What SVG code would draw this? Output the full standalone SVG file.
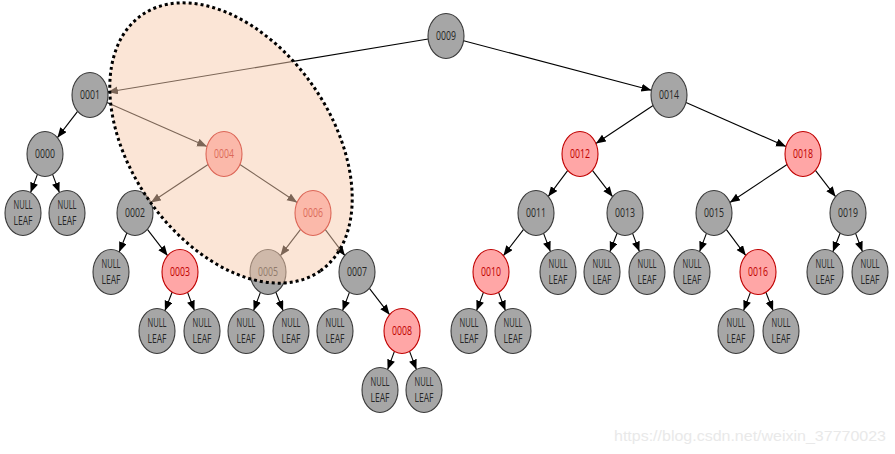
<svg xmlns="http://www.w3.org/2000/svg" width="895" height="454" viewBox="0 0 895 454">
<defs>
<marker id="arr" markerUnits="userSpaceOnUse" markerWidth="11" markerHeight="9" refX="10" refY="4" orient="auto">
<path d="M0,0 L10,4 L0,8 z" fill="#000"/>
</marker>
<style>
.e line{stroke:#000;stroke-width:1.1;marker-end:url(#arr)}
.n ellipse{fill:#a6a6a6;stroke:#3a3a3a;stroke-width:1.1}
.r ellipse{fill:#ffa6a6;stroke:#c00000;stroke-width:1.1}
text{font-family:"Open Sans","Liberation Sans",sans-serif;font-size:12px;text-anchor:middle}
.n text{fill:#262626}
.r text{fill:#c00000}
.wm{font-family:"Liberation Sans",Arial,sans-serif;font-size:14.5px;fill:#e9e9e9;text-anchor:start}
</style>
</defs>
<rect width="895" height="454" fill="#fff"/>
<g id="connectors" class="e">
<line x1="428.2" y1="39" x2="107.9" y2="92"/>
<line x1="463.6" y1="40.7" x2="651.4" y2="90.3"/>
<line x1="77.6" y1="111.3" x2="57.4" y2="137.7"/>
<line x1="107" y1="102.5" x2="207" y2="146.5"/>
<line x1="37.4" y1="174.4" x2="30.6" y2="192.6"/>
<line x1="52.6" y1="174.4" x2="59.4" y2="192.6"/>
<line x1="208.1" y1="164.5" x2="150.9" y2="202.5"/>
<line x1="239.9" y1="164.5" x2="297.1" y2="202.5"/>
<line x1="126.8" y1="233" x2="119.2" y2="252"/>
<line x1="147.4" y1="229.3" x2="167.6" y2="255.7"/>
<line x1="300.6" y1="229.3" x2="280.4" y2="255.7"/>
<line x1="325.1" y1="229.3" x2="344.9" y2="255.7"/>
<line x1="172.1" y1="292.2" x2="164.9" y2="310.8"/>
<line x1="187.6" y1="292.4" x2="194.4" y2="310.6"/>
<line x1="260.4" y1="292.4" x2="253.6" y2="310.6"/>
<line x1="275.9" y1="292.2" x2="283.1" y2="310.8"/>
<line x1="349.4" y1="292.4" x2="342.6" y2="310.6"/>
<line x1="369.4" y1="288.3" x2="389.6" y2="314.7"/>
<line x1="394.4" y1="351.4" x2="387.6" y2="369.6"/>
<line x1="409.6" y1="351.4" x2="416.4" y2="369.6"/>
<line x1="653.1" y1="105.5" x2="595.9" y2="143.5"/>
<line x1="686" y1="102.5" x2="786" y2="146.5"/>
<line x1="567.8" y1="170.4" x2="548.2" y2="196.6"/>
<line x1="592.4" y1="170.3" x2="612.6" y2="196.7"/>
<line x1="787.1" y1="164.5" x2="729.9" y2="202.5"/>
<line x1="815.4" y1="170.3" x2="835.6" y2="196.7"/>
<line x1="523.6" y1="229.3" x2="503.4" y2="255.7"/>
<line x1="543.6" y1="233.4" x2="550.4" y2="251.6"/>
<line x1="617.1" y1="233.2" x2="609.9" y2="251.8"/>
<line x1="632.6" y1="233.4" x2="639.4" y2="251.6"/>
<line x1="706.4" y1="233.4" x2="699.6" y2="251.6"/>
<line x1="726.2" y1="229.4" x2="745.8" y2="255.6"/>
<line x1="840.1" y1="233.2" x2="832.9" y2="251.8"/>
<line x1="855.6" y1="233.4" x2="862.4" y2="251.6"/>
<line x1="483.4" y1="292.4" x2="476.6" y2="310.6"/>
<line x1="498.6" y1="292.4" x2="505.4" y2="310.6"/>
<line x1="750.4" y1="292.4" x2="743.6" y2="310.6"/>
<line x1="765.9" y1="292.2" x2="773.1" y2="310.8"/>
</g>
<g id="n0009" class="n"><ellipse cx="446" cy="36" rx="18" ry="22.5"/><text x="446" y="40" textLength="20" lengthAdjust="spacingAndGlyphs">0009</text></g>
<g id="n0001" class="n"><ellipse cx="90" cy="95" rx="18" ry="22.5"/><text x="90" y="99" textLength="20" lengthAdjust="spacingAndGlyphs">0001</text></g>
<g id="n0014" class="n"><ellipse cx="669" cy="95" rx="18" ry="22.5"/><text x="669" y="99" textLength="20" lengthAdjust="spacingAndGlyphs">0014</text></g>
<g id="n0000" class="n"><ellipse cx="45" cy="154" rx="18" ry="22.5"/><text x="45" y="158" textLength="20" lengthAdjust="spacingAndGlyphs">0000</text></g>
<g id="n0004" class="r"><ellipse cx="224" cy="154" rx="18" ry="22.5"/><text x="224" y="158" textLength="20" lengthAdjust="spacingAndGlyphs">0004</text></g>
<g id="n0012" class="r"><ellipse cx="580" cy="154" rx="18" ry="22.5"/><text x="580" y="158" textLength="20" lengthAdjust="spacingAndGlyphs">0012</text></g>
<g id="n0018" class="r"><ellipse cx="803" cy="154" rx="18" ry="22.5"/><text x="803" y="158" textLength="20" lengthAdjust="spacingAndGlyphs">0018</text></g>
<g id="null1" class="n"><ellipse cx="23" cy="213" rx="18" ry="22.5"/><text x="23" y="209" textLength="19" lengthAdjust="spacingAndGlyphs">NULL</text><text x="23" y="225" textLength="19" lengthAdjust="spacingAndGlyphs">LEAF</text></g>
<g id="null2" class="n"><ellipse cx="67" cy="213" rx="18" ry="22.5"/><text x="67" y="209" textLength="19" lengthAdjust="spacingAndGlyphs">NULL</text><text x="67" y="225" textLength="19" lengthAdjust="spacingAndGlyphs">LEAF</text></g>
<g id="n0002" class="n"><ellipse cx="135" cy="213" rx="18" ry="22.5"/><text x="135" y="217" textLength="20" lengthAdjust="spacingAndGlyphs">0002</text></g>
<g id="n0006" class="r"><ellipse cx="313" cy="213" rx="18" ry="22.5"/><text x="313" y="217" textLength="20" lengthAdjust="spacingAndGlyphs">0006</text></g>
<g id="n0011" class="n"><ellipse cx="536" cy="213" rx="18" ry="22.5"/><text x="536" y="217" textLength="20" lengthAdjust="spacingAndGlyphs">0011</text></g>
<g id="n0013" class="n"><ellipse cx="625" cy="213" rx="18" ry="22.5"/><text x="625" y="217" textLength="20" lengthAdjust="spacingAndGlyphs">0013</text></g>
<g id="n0015" class="n"><ellipse cx="714" cy="213" rx="18" ry="22.5"/><text x="714" y="217" textLength="20" lengthAdjust="spacingAndGlyphs">0015</text></g>
<g id="n0019" class="n"><ellipse cx="848" cy="213" rx="18" ry="22.5"/><text x="848" y="217" textLength="20" lengthAdjust="spacingAndGlyphs">0019</text></g>
<g id="null3" class="n"><ellipse cx="111" cy="272" rx="18" ry="22.5"/><text x="111" y="268" textLength="19" lengthAdjust="spacingAndGlyphs">NULL</text><text x="111" y="284" textLength="19" lengthAdjust="spacingAndGlyphs">LEAF</text></g>
<g id="n0003" class="r"><ellipse cx="180" cy="272" rx="18" ry="22.5"/><text x="180" y="276" textLength="20" lengthAdjust="spacingAndGlyphs">0003</text></g>
<g id="n0005" class="n"><ellipse cx="268" cy="272" rx="18" ry="22.5"/><text x="268" y="276" textLength="20" lengthAdjust="spacingAndGlyphs">0005</text></g>
<g id="n0007" class="n"><ellipse cx="357" cy="272" rx="18" ry="22.5"/><text x="357" y="276" textLength="20" lengthAdjust="spacingAndGlyphs">0007</text></g>
<g id="n0010" class="r"><ellipse cx="491" cy="272" rx="18" ry="22.5"/><text x="491" y="276" textLength="20" lengthAdjust="spacingAndGlyphs">0010</text></g>
<g id="null4" class="n"><ellipse cx="558" cy="272" rx="18" ry="22.5"/><text x="558" y="268" textLength="19" lengthAdjust="spacingAndGlyphs">NULL</text><text x="558" y="284" textLength="19" lengthAdjust="spacingAndGlyphs">LEAF</text></g>
<g id="null5" class="n"><ellipse cx="602" cy="272" rx="18" ry="22.5"/><text x="602" y="268" textLength="19" lengthAdjust="spacingAndGlyphs">NULL</text><text x="602" y="284" textLength="19" lengthAdjust="spacingAndGlyphs">LEAF</text></g>
<g id="null6" class="n"><ellipse cx="647" cy="272" rx="18" ry="22.5"/><text x="647" y="268" textLength="19" lengthAdjust="spacingAndGlyphs">NULL</text><text x="647" y="284" textLength="19" lengthAdjust="spacingAndGlyphs">LEAF</text></g>
<g id="null7" class="n"><ellipse cx="692" cy="272" rx="18" ry="22.5"/><text x="692" y="268" textLength="19" lengthAdjust="spacingAndGlyphs">NULL</text><text x="692" y="284" textLength="19" lengthAdjust="spacingAndGlyphs">LEAF</text></g>
<g id="n0016" class="r"><ellipse cx="758" cy="272" rx="18" ry="22.5"/><text x="758" y="276" textLength="20" lengthAdjust="spacingAndGlyphs">0016</text></g>
<g id="null8" class="n"><ellipse cx="825" cy="272" rx="18" ry="22.5"/><text x="825" y="268" textLength="19" lengthAdjust="spacingAndGlyphs">NULL</text><text x="825" y="284" textLength="19" lengthAdjust="spacingAndGlyphs">LEAF</text></g>
<g id="null9" class="n"><ellipse cx="870" cy="272" rx="18" ry="22.5"/><text x="870" y="268" textLength="19" lengthAdjust="spacingAndGlyphs">NULL</text><text x="870" y="284" textLength="19" lengthAdjust="spacingAndGlyphs">LEAF</text></g>
<g id="null10" class="n"><ellipse cx="157" cy="331" rx="18" ry="22.5"/><text x="157" y="327" textLength="19" lengthAdjust="spacingAndGlyphs">NULL</text><text x="157" y="343" textLength="19" lengthAdjust="spacingAndGlyphs">LEAF</text></g>
<g id="null11" class="n"><ellipse cx="202" cy="331" rx="18" ry="22.5"/><text x="202" y="327" textLength="19" lengthAdjust="spacingAndGlyphs">NULL</text><text x="202" y="343" textLength="19" lengthAdjust="spacingAndGlyphs">LEAF</text></g>
<g id="null12" class="n"><ellipse cx="246" cy="331" rx="18" ry="22.5"/><text x="246" y="327" textLength="19" lengthAdjust="spacingAndGlyphs">NULL</text><text x="246" y="343" textLength="19" lengthAdjust="spacingAndGlyphs">LEAF</text></g>
<g id="null13" class="n"><ellipse cx="291" cy="331" rx="18" ry="22.5"/><text x="291" y="327" textLength="19" lengthAdjust="spacingAndGlyphs">NULL</text><text x="291" y="343" textLength="19" lengthAdjust="spacingAndGlyphs">LEAF</text></g>
<g id="null14" class="n"><ellipse cx="335" cy="331" rx="18" ry="22.5"/><text x="335" y="327" textLength="19" lengthAdjust="spacingAndGlyphs">NULL</text><text x="335" y="343" textLength="19" lengthAdjust="spacingAndGlyphs">LEAF</text></g>
<g id="n0008" class="r"><ellipse cx="402" cy="331" rx="18" ry="22.5"/><text x="402" y="335" textLength="20" lengthAdjust="spacingAndGlyphs">0008</text></g>
<g id="null15" class="n"><ellipse cx="469" cy="331" rx="18" ry="22.5"/><text x="469" y="327" textLength="19" lengthAdjust="spacingAndGlyphs">NULL</text><text x="469" y="343" textLength="19" lengthAdjust="spacingAndGlyphs">LEAF</text></g>
<g id="null16" class="n"><ellipse cx="513" cy="331" rx="18" ry="22.5"/><text x="513" y="327" textLength="19" lengthAdjust="spacingAndGlyphs">NULL</text><text x="513" y="343" textLength="19" lengthAdjust="spacingAndGlyphs">LEAF</text></g>
<g id="null17" class="n"><ellipse cx="736" cy="331" rx="18" ry="22.5"/><text x="736" y="327" textLength="19" lengthAdjust="spacingAndGlyphs">NULL</text><text x="736" y="343" textLength="19" lengthAdjust="spacingAndGlyphs">LEAF</text></g>
<g id="null18" class="n"><ellipse cx="781" cy="331" rx="18" ry="22.5"/><text x="781" y="327" textLength="19" lengthAdjust="spacingAndGlyphs">NULL</text><text x="781" y="343" textLength="19" lengthAdjust="spacingAndGlyphs">LEAF</text></g>
<g id="null19" class="n"><ellipse cx="380" cy="390" rx="18" ry="22.5"/><text x="380" y="386" textLength="19" lengthAdjust="spacingAndGlyphs">NULL</text><text x="380" y="402" textLength="19" lengthAdjust="spacingAndGlyphs">LEAF</text></g>
<g id="null20" class="n"><ellipse cx="424" cy="390" rx="18" ry="22.5"/><text x="424" y="386" textLength="19" lengthAdjust="spacingAndGlyphs">NULL</text><text x="424" y="402" textLength="19" lengthAdjust="spacingAndGlyphs">LEAF</text></g>
<g id="highlight">
<ellipse cx="231" cy="143" rx="156" ry="100" transform="rotate(55.1 231 143)" fill="#f8cbad" fill-opacity="0.5" stroke="#000" stroke-width="3" stroke-dasharray="3 3"/>
</g>
<text class="wm" x="614" y="441" textLength="272" lengthAdjust="spacingAndGlyphs">https://blog.csdn.net/weixin_37770023</text>
</svg>
